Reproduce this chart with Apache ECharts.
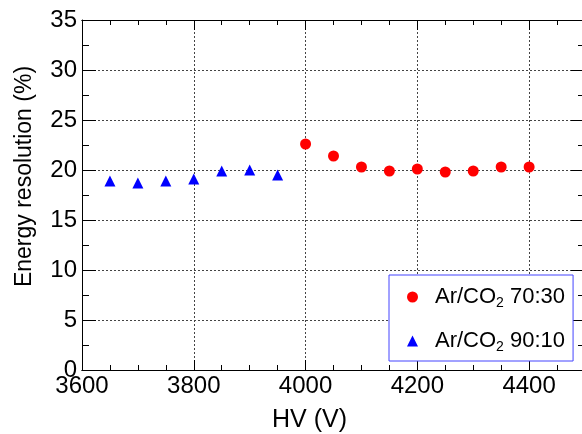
<!DOCTYPE html>
<html>
<head>
<meta charset="utf-8">
<script src="https://cdn.jsdelivr.net/npm/echarts@6/dist/echarts.min.js"></script>
<style>html,body{margin:0;padding:0;background:#fff}#c{width:582px;height:434px}</style>
</head>
<body>
<div id="c"></div>
<script>
const hv7030 = [4000, 4050, 4100, 4150, 4200, 4250, 4300, 4350, 4400];
const res7030 = [22.6, 21.4, 20.3, 19.9, 20.1, 19.8, 19.9, 20.3, 20.3];
const hv9010 = [3650, 3700, 3750, 3800, 3850, 3900, 3950];
const res9010 = [18.9, 18.7, 18.9, 19.1, 19.9, 20.0, 19.5];
const seriesNames = ['Ar/CO2 70:30', 'Ar/CO2 90:10'];
const xTitle = 'HV (V)';
const yTitle = 'Energy resolution (%)';

const FONT = '"Liberation Sans", Arial, Helvetica, sans-serif';
const chart = echarts.init(document.getElementById('c'), null, {renderer: 'canvas'});

const gridLine = {show: true, lineStyle: {color: '#444', type: [2, 2], width: 1}};
const axLine = {show: true, onZero: false, lineStyle: {color: '#000', width: 1}};

function xAx(pos, interval, major) {
  return {
    type: 'value', position: pos, min: 3600, max: 4500, interval: interval,
    axisLine: axLine,
    axisTick: {show: true, inside: true, length: major ? 10 : 5, lineStyle: {color: '#000'}},
    axisLabel: {show: major && pos === 'bottom', showMaxLabel: false, color: '#000', fontSize: 24, fontFamily: FONT, margin: 4,
      formatter: v => String(v)},
    splitLine: major && pos === 'bottom' ? gridLine : {show: false},
    name: (major && pos === 'bottom') ? xTitle : '',
    nameLocation: 'middle', nameGap: 38,
    nameTextStyle: {color: '#000', fontSize: 25, fontFamily: FONT, padding: [0, 48, 0, 0]}
  };
}
function yAx(pos) {
  const left = pos === 'left';
  return {
    type: 'value', position: pos, min: 0, max: 35, interval: 5,
    axisLine: axLine,
    axisTick: {show: true, inside: true, length: 14, lineStyle: {color: '#000'}},
    minorTick: {show: true, splitNumber: 2, length: 7, lineStyle: {color: '#000'}},
    axisLabel: {show: left, color: '#000', fontSize: 24, fontFamily: FONT, margin: 5, formatter: v => String(v)},
    splitLine: left ? gridLine : {show: false},
    name: left ? yTitle : '',
    nameLocation: 'middle', nameGap: 46, nameRotate: 90,
    nameTextStyle: {color: '#000', fontSize: 23, fontFamily: FONT, padding: [0, 0, 0, 37]}
  };
}

function fmtLegend(name) {
  const m = name.match(/^(.*?)2(.*)$/);
  return '{p| }{a|' + m[1] + '}{s|2}{a|' + m[2] + '}';
}

chart.setOption({
  animation: false,
  backgroundColor: '#fff',
  grid: {left: 82, right: -3, top: 20, bottom: 64, containLabel: false, outerBoundsMode: 'none'},
  xAxis: [xAx('bottom', 200, true), xAx('bottom', 50, false), xAx('top', 200, true), xAx('top', 50, false)],
  yAxis: [yAx('left'), yAx('right')],
  legend: {
    orient: 'vertical', left: 389, top: 275,
    padding: [9, 8, 7, 18], itemGap: 18, itemWidth: 11, itemHeight: 11,
    borderColor: '#4444ff', borderWidth: 1, backgroundColor: '#fff',
    data: [{name: seriesNames[0], icon: 'circle'}, {name: seriesNames[1], icon: 'triangle'}],
    formatter: fmtLegend,
    textStyle: {
      color: '#000', fontFamily: FONT, fontSize: 22, lineHeight: 24,
      rich: {
        p: {width: 12, fontSize: 22, lineHeight: 24},
        a: {fontSize: 22, fontFamily: FONT, color: '#000', lineHeight: 24},
        s: {fontSize: 14, fontFamily: FONT, color: '#000', lineHeight: 24, padding: [12, 0, 0, 0]}
      }
    }
  },
  series: [
    {
      name: seriesNames[0], type: 'scatter', xAxisIndex: 0, yAxisIndex: 0,
      symbol: 'circle', symbolSize: 11, itemStyle: {color: '#ff0000', opacity: 1},
      data: hv7030.map((x, i) => [x, res7030[i]])
    },
    {
      name: seriesNames[1], type: 'scatter', xAxisIndex: 0, yAxisIndex: 0,
      symbol: 'triangle', symbolSize: [11, 11], itemStyle: {color: '#0000ff', opacity: 1},
      data: hv9010.map((x, i) => [x, res9010[i]])
    }
  ]
});
</script>
</body>
</html>
